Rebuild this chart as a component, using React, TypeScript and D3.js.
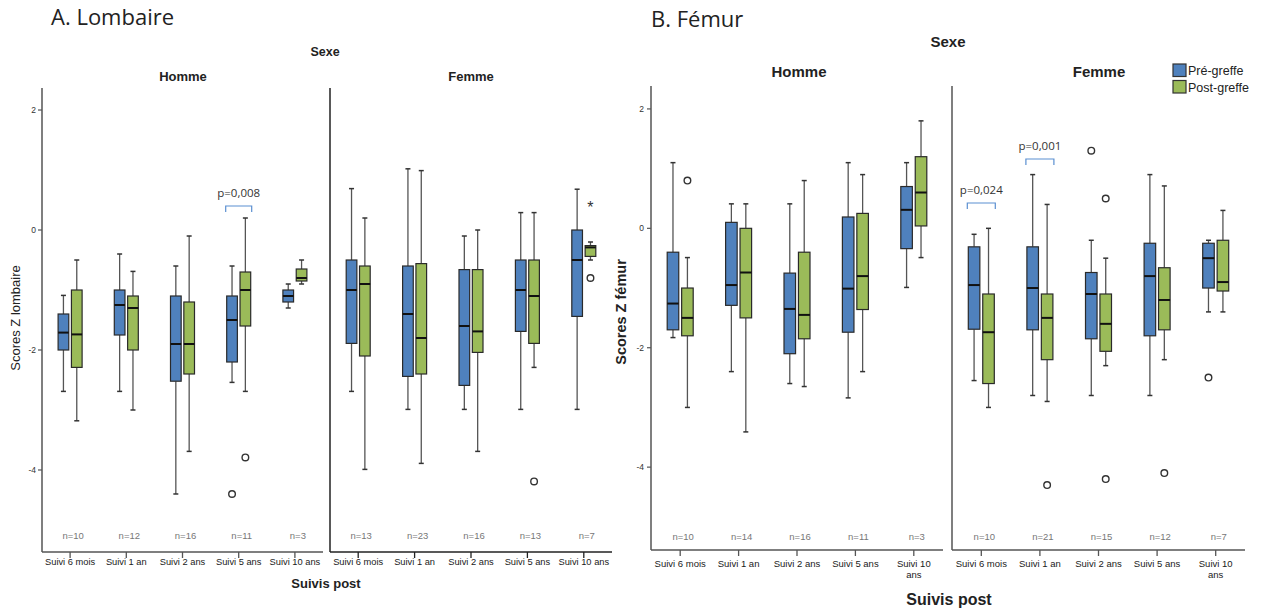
import React from "react";
import * as d3 from "d3";

const categories = ["Suivi 6 mois", "Suivi 1 an", "Suivi 2 ans", "Suivi 5 ans", "Suivi 10 ans"];
const seriesNames = ["Pré-greffe", "Post-greffe"];
const yTicks = [2, 0, -2, -4];

// [whiskerLow, q1, median, q3, whiskerHigh]
const lomHommePre = [
  [-2.69, -2.0, -1.71, -1.4, -1.09],
  [-2.69, -1.75, -1.25, -1.0, -0.4],
  [-4.4, -2.52, -1.9, -1.1, -0.6],
  [-2.54, -2.2, -1.5, -1.1, -0.6],
  [-1.3, -1.2, -1.1, -1.0, -0.9],
];
const lomHommePost = [
  [-3.18, -2.29, -1.74, -1.0, -0.5],
  [-3.0, -2.0, -1.3, -1.1, -0.69],
  [-3.69, -2.4, -1.9, -1.2, -0.1],
  [-2.69, -1.6, -1.0, -0.7, 0.2],
  [-0.9, -0.85, -0.8, -0.65, -0.5],
];
const lomFemmePre = [
  [-2.69, -1.89, -1.0, -0.5, 0.69],
  [-2.99, -2.44, -1.4, -0.6, 1.02],
  [-2.99, -2.59, -1.6, -0.66, -0.1],
  [-2.99, -1.69, -1.0, -0.5, 0.29],
  [-2.99, -1.44, -0.5, 0.0, 0.68],
];
const lomFemmePost = [
  [-3.99, -2.1, -0.9, -0.6, 0.2],
  [-3.89, -2.4, -1.8, -0.56, 0.99],
  [-3.69, -2.04, -1.69, -0.66, 0.0],
  [-2.29, -1.89, -1.1, -0.5, 0.29],
  [-0.5, -0.44, -0.29, -0.26, -0.2],
];
const femHommePre = [
  [-1.83, -1.7, -1.26, -0.4, 1.1],
  [-2.4, -1.29, -0.95, 0.1, 0.41],
  [-2.6, -2.1, -1.35, -0.75, 0.41],
  [-2.84, -1.74, -1.01, 0.19, 1.1],
  [-0.99, -0.34, 0.31, 0.7, 1.1],
];
const femHommePost = [
  [-3.0, -1.8, -1.5, -1.0, -0.49],
  [-3.41, -1.5, -0.74, 0.0, 0.41],
  [-2.65, -1.85, -1.45, -0.4, 0.8],
  [-2.4, -1.36, -0.8, 0.25, 0.9],
  [-0.49, 0.04, 0.6, 1.2, 1.8],
];
const femFemmePre = [
  [-2.55, -1.69, -0.95, -0.31, -0.1],
  [-2.8, -1.7, -1.0, -0.31, 0.9],
  [-2.8, -1.85, -1.1, -0.74, -0.2],
  [-2.8, -1.8, -0.8, -0.25, 0.9],
  [-1.4, -1.0, -0.5, -0.25, -0.2],
];
const femFemmePost = [
  [-3.0, -2.6, -1.74, -1.1, 0.0],
  [-2.9, -2.2, -1.5, -1.1, 0.4],
  [-2.3, -2.06, -1.6, -1.1, -0.5],
  [-2.2, -1.7, -1.2, -0.66, 0.71],
  [-1.4, -1.05, -0.9, -0.2, 0.3],
];

const lomHommeN = [10, 12, 16, 11, 3];
const lomFemmeN = [13, 23, 16, 13, 7];
const femHommeN = [10, 14, 16, 11, 3];
const femFemmeN = [10, 21, 15, 12, 7];

// outliers: [categoryIndex, seriesIndex, value, symbol]
const lomHommeOut: [number, number, number, string][] = [
  [3, 0, -4.4, "o"],
  [3, 1, -3.79, "o"],
];
const lomFemmeOut: [number, number, number, string][] = [
  [3, 1, -4.19, "o"],
  [4, 1, 0.4, "*"],
  [4, 1, -0.8, "o"],
];
const femHommeOut: [number, number, number, string][] = [[0, 1, 0.8, "o"]];
const femFemmeOut: [number, number, number, string][] = [
  [1, 1, -4.3, "o"],
  [2, 0, 1.3, "o"],
  [2, 1, 0.5, "o"],
  [2, 1, -4.2, "o"],
  [3, 1, -4.1, "o"],
  [4, 0, -2.5, "o"],
];

// significance brackets: [categoryIndex, label]
const lomHommeSig: [number, string][] = [[3, "p=0,008"]];
const femFemmeSig: [number, string][] = [
  [0, "p=0,024"],
  [1, "p=0,001"],
];

const COLORS = ["#4F81BD", "#9BBB59"];
const SIG = "#5b8fd1";

type PanelProps = {
  x0: number;
  x1: number;
  y: d3.ScaleLinear<number, number>;
  pre: number[][];
  post: number[][];
  n: number[];
  out: [number, number, number, string][];
  sig?: [number, string][];
  sigY?: number[];
  half: number;
  labelSize: number;
  nY: number;
  labelY: number;
  wrap: boolean;
  axisColor: string;
};

function Panel(p: PanelProps) {
  const x = d3.scaleBand<string>().domain(categories).range([p.x0, p.x1]);
  const sub = d3.scaleBand<number>().domain([0, 1]).range([-p.half, p.half]).paddingInner(0.2);
  const bw = sub.bandwidth();
  const [yb, yt] = p.y.range();
  const boxes: React.ReactNode[] = [];
  [p.pre, p.post].forEach((data, s) => {
    data.forEach((d, i) => {
      const cx = (x(categories[i]) as number) + x.bandwidth() / 2 + (sub(s) as number) + bw / 2;
      const [lo, q1, med, q3, hi] = d;
      boxes.push(
        <g key={`b${s}-${i}`}>
          <line x1={cx} x2={cx} y1={p.y(hi)} y2={p.y(q3)} stroke="#555" strokeWidth={1.3} />
          <line x1={cx} x2={cx} y1={p.y(q1)} y2={p.y(lo)} stroke="#555" strokeWidth={1.3} />
          <line x1={cx - 2.5} x2={cx + 2.5} y1={p.y(hi)} y2={p.y(hi)} stroke="#333" strokeWidth={1.5} />
          <line x1={cx - 2.5} x2={cx + 2.5} y1={p.y(lo)} y2={p.y(lo)} stroke="#333" strokeWidth={1.5} />
          <rect
            x={cx - bw / 2}
            y={p.y(q3)}
            width={bw}
            height={p.y(q1) - p.y(q3)}
            fill={COLORS[s]}
            stroke="#2a2a2a"
            strokeWidth={1.2}
          />
          <line x1={cx - bw / 2} x2={cx + bw / 2} y1={p.y(med)} y2={p.y(med)} stroke="#111" strokeWidth={2} />
        </g>
      );
    });
  });
  return (
    <g>
      <line x1={p.x0} x2={p.x0} y1={yt} y2={yb} stroke={p.axisColor} strokeWidth={1.5} />
      <line x1={p.x0} x2={p.x1} y1={yb} y2={yb} stroke={p.axisColor} strokeWidth={1.5} />
      {categories.map((c, i) => {
        const cx = (x(c) as number) + x.bandwidth() / 2;
        const parts = c.split(" ");
        const doWrap = p.wrap && parts[1].length > 1;
        return (
          <g key={c}>
            <line x1={cx} x2={cx} y1={yb} y2={yb + 6} stroke={p.axisColor} strokeWidth={1.3} />
            {doWrap ? (
              <text textAnchor="middle" fontSize={p.labelSize} fill="#1a1a1a" fontFamily="Liberation Sans, Arial">
                <tspan x={cx} y={p.labelY}>{parts.slice(0, 2).join(" ")}</tspan>
                <tspan x={cx} y={p.labelY + 11}>{parts.slice(2).join(" ")}</tspan>
              </text>
            ) : (
              <text x={cx} y={p.labelY} textAnchor="middle" fontSize={p.labelSize} fill="#1a1a1a" fontFamily="Liberation Sans, Arial">
                {c}
              </text>
            )}
            <text x={cx + 3} y={p.nY} textAnchor="middle" fontSize={9.5} fill="#777" fontFamily="Liberation Sans, Arial">
              {`n=${p.n[i]}`}
            </text>
          </g>
        );
      })}
      {boxes}
      {p.out.map(([ci, s, v, sym], k) => {
        const cx = (x(categories[ci]) as number) + x.bandwidth() / 2 + (sub(s) as number) + bw / 2;
        return sym === "o" ? (
          <circle key={`o${k}`} cx={cx} cy={p.y(v)} r={3.3} fill="white" stroke="#333" strokeWidth={1.4} />
        ) : (
          <text key={`o${k}`} x={cx} y={p.y(v) + 7} textAnchor="middle" fontSize={16} fill="#333" fontFamily="Liberation Sans, Arial">
            *
          </text>
        );
      })}
      {(p.sig || []).map(([ci, label], k) => {
        const cx = (x(categories[ci]) as number) + x.bandwidth() / 2;
        const yy = (p.sigY as number[])[k];
        const h = p.half + 1;
        return (
          <g key={`s${k}`}>
            <path d={`M${cx - h},${yy + 6} V${yy} H${cx + h} V${yy + 6}`} fill="none" stroke={SIG} strokeWidth={1.2} />
            <text x={cx} y={yy - 9} textAnchor="middle" fontSize={11.5} fill="#333" fontFamily="Open Sans, Liberation Sans">
              {label}
            </text>
          </g>
        );
      })}
    </g>
  );
}

export default function App() {
  const yL = d3.scaleLinear().domain([-5.367, 2.367]).range([552, 88]);
  const yR = d3.scaleLinear().domain([-5.388, 2.384]).range([550, 86]);
  return (
    <svg width={1261} height={608} style={{ position: "absolute", left: 0, top: 0, background: "white" }}>
      <rect width={1261} height={608} fill="white" />
      {/* A. Lombaire */}
      <text x={51} y={25} fontSize={22} fontFamily="Open Sans, Liberation Sans" fill="#222">A. Lombaire</text>
      <text x={325} y={56} textAnchor="middle" fontSize={12.5} fontWeight="bold" fontFamily="Liberation Sans, Arial" fill="#222">Sexe</text>
      <text x={183} y={81} textAnchor="middle" fontSize={13} fontWeight="bold" fontFamily="Liberation Sans, Arial" fill="#222">Homme</text>
      <text x={471} y={81} textAnchor="middle" fontSize={13} fontWeight="bold" fontFamily="Liberation Sans, Arial" fill="#222">Femme</text>
      <text transform="translate(20,318) rotate(-90)" textAnchor="middle" fontSize={13} fontFamily="Liberation Sans, Arial" fill="#222">Scores Z lombaire</text>
      {yTicks.map((t) => (
        <g key={`lt${t}`}>
          <line x1={38} x2={42} y1={yL(t)} y2={yL(t)} stroke="#555" strokeWidth={1.2} />
          <text x={36} y={yL(t) + 3} textAnchor="end" fontSize={8.5} fill="#333" fontFamily="Liberation Sans, Arial">{t}</text>
        </g>
      ))}
      <Panel x0={42} x1={323} y={yL} pre={lomHommePre} post={lomHommePost} n={lomHommeN} out={lomHommeOut}
        sig={lomHommeSig} sigY={[206]} half={12} labelSize={9.3} nY={539} labelY={565} wrap={false} axisColor="#555" />
      <Panel x0={330} x1={612} y={yL} pre={lomFemmePre} post={lomFemmePost} n={lomFemmeN} out={lomFemmeOut}
        half={12} labelSize={9.3} nY={539} labelY={565} wrap={false} axisColor="#222" />
      <text x={326} y={588} textAnchor="middle" fontSize={13} fontWeight="bold" fontFamily="Liberation Sans, Arial" fill="#222">Suivis post</text>

      {/* B. Fémur */}
      <text x={651} y={27} fontSize={22} fontFamily="Open Sans, Liberation Sans" fill="#222">B. Fémur</text>
      <text x={948} y={47} textAnchor="middle" fontSize={15} fontWeight="bold" fontFamily="Liberation Sans, Arial" fill="#222">Sexe</text>
      <text x={799} y={77} textAnchor="middle" fontSize={15} fontWeight="bold" fontFamily="Liberation Sans, Arial" fill="#222">Homme</text>
      <text x={1099} y={77} textAnchor="middle" fontSize={15} fontWeight="bold" fontFamily="Liberation Sans, Arial" fill="#222">Femme</text>
      <text transform="translate(626,312) rotate(-90)" textAnchor="middle" fontSize={14.5} fontWeight="bold" fontFamily="Liberation Sans, Arial" fill="#222">Scores Z fémur</text>
      {yTicks.map((t) => (
        <g key={`rt${t}`}>
          <line x1={647} x2={651} y1={yR(t)} y2={yR(t)} stroke="#555" strokeWidth={1.2} />
          <text x={644} y={yR(t) + 3} textAnchor="end" fontSize={8.5} fill="#333" fontFamily="Liberation Sans, Arial">{t}</text>
        </g>
      ))}
      <Panel x0={651} x1={943} y={yR} pre={femHommePre} post={femHommePost} n={femHommeN} out={femHommeOut}
        half={13} labelSize={9.5} nY={540} labelY={567} wrap={true} axisColor="#555" />
      <Panel x0={952} x1={1245} y={yR} pre={femFemmePre} post={femFemmePost} n={femFemmeN} out={femFemmeOut}
        sig={femFemmeSig} sigY={[203, 159]} half={13} labelSize={9.5} nY={540} labelY={567} wrap={true} axisColor="#555" />
      <text x={949} y={605} textAnchor="middle" fontSize={16} fontWeight="bold" fontFamily="Liberation Sans, Arial" fill="#222">Suivis post</text>

      {/* legend */}
      {seriesNames.map((s, i) => (
        <g key={s}>
          <rect x={1173} y={64 + i * 16.5} width={13} height={12.5} fill={COLORS[i]} stroke="#333" strokeWidth={1.2} />
          <text x={1188} y={75 + i * 16.5} fontSize={12.5} fill="#222" fontFamily="Liberation Sans, Arial">{s}</text>
        </g>
      ))}
    </svg>
  );
}
